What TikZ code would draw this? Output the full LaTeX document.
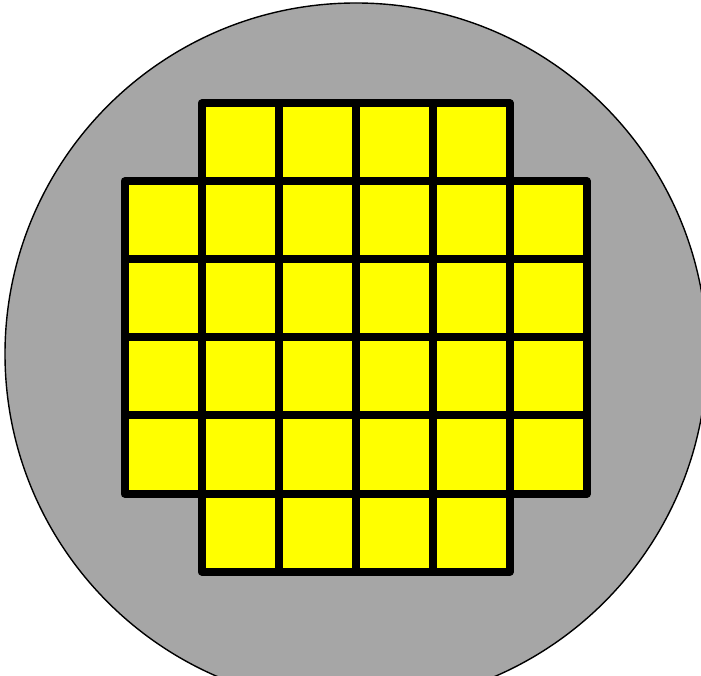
\documentclass[tikz,border=0pt]{standalone}
\usepackage{tikz}
\definecolor{wafergray}{HTML}{A6A6A6}
\definecolor{dieyellow}{HTML}{FFFF00}
\begin{document}
\begin{tikzpicture}[
  x=1pt, y=1pt,
  wafer/.style={draw=black, line width=1.4pt, fill=wafergray},
  die/.style={
    draw=black, line width=8pt, fill=dieyellow, line join=round,
    minimum width=77.1pt, minimum height=78pt, inner sep=0pt, outer sep=0pt
  },
]
\useasboundingbox (0,0) rectangle (701,675);
\clip (0,0) rectangle (701,675);

% ---------------- wafer
\node[wafer, circle, minimum size=702pt, inner sep=0pt] (wafer) at (356,321) {};

% ---------------- dies, 6x6 grid without the four corners
\foreach \r in {0,...,5} {
  \foreach \c in {0,...,5} {
    \pgfmathtruncatemacro{\corner}{(\r==0 || \r==5) && (\c==0 || \c==5)}
    \ifnum\corner=0
      \node[die] (d\r\c) at ({124.5+77.1*(\c+0.5)},{571.5-78*(\r+0.5)}) {};
    \fi
  }
}

\end{tikzpicture}
\end{document}
